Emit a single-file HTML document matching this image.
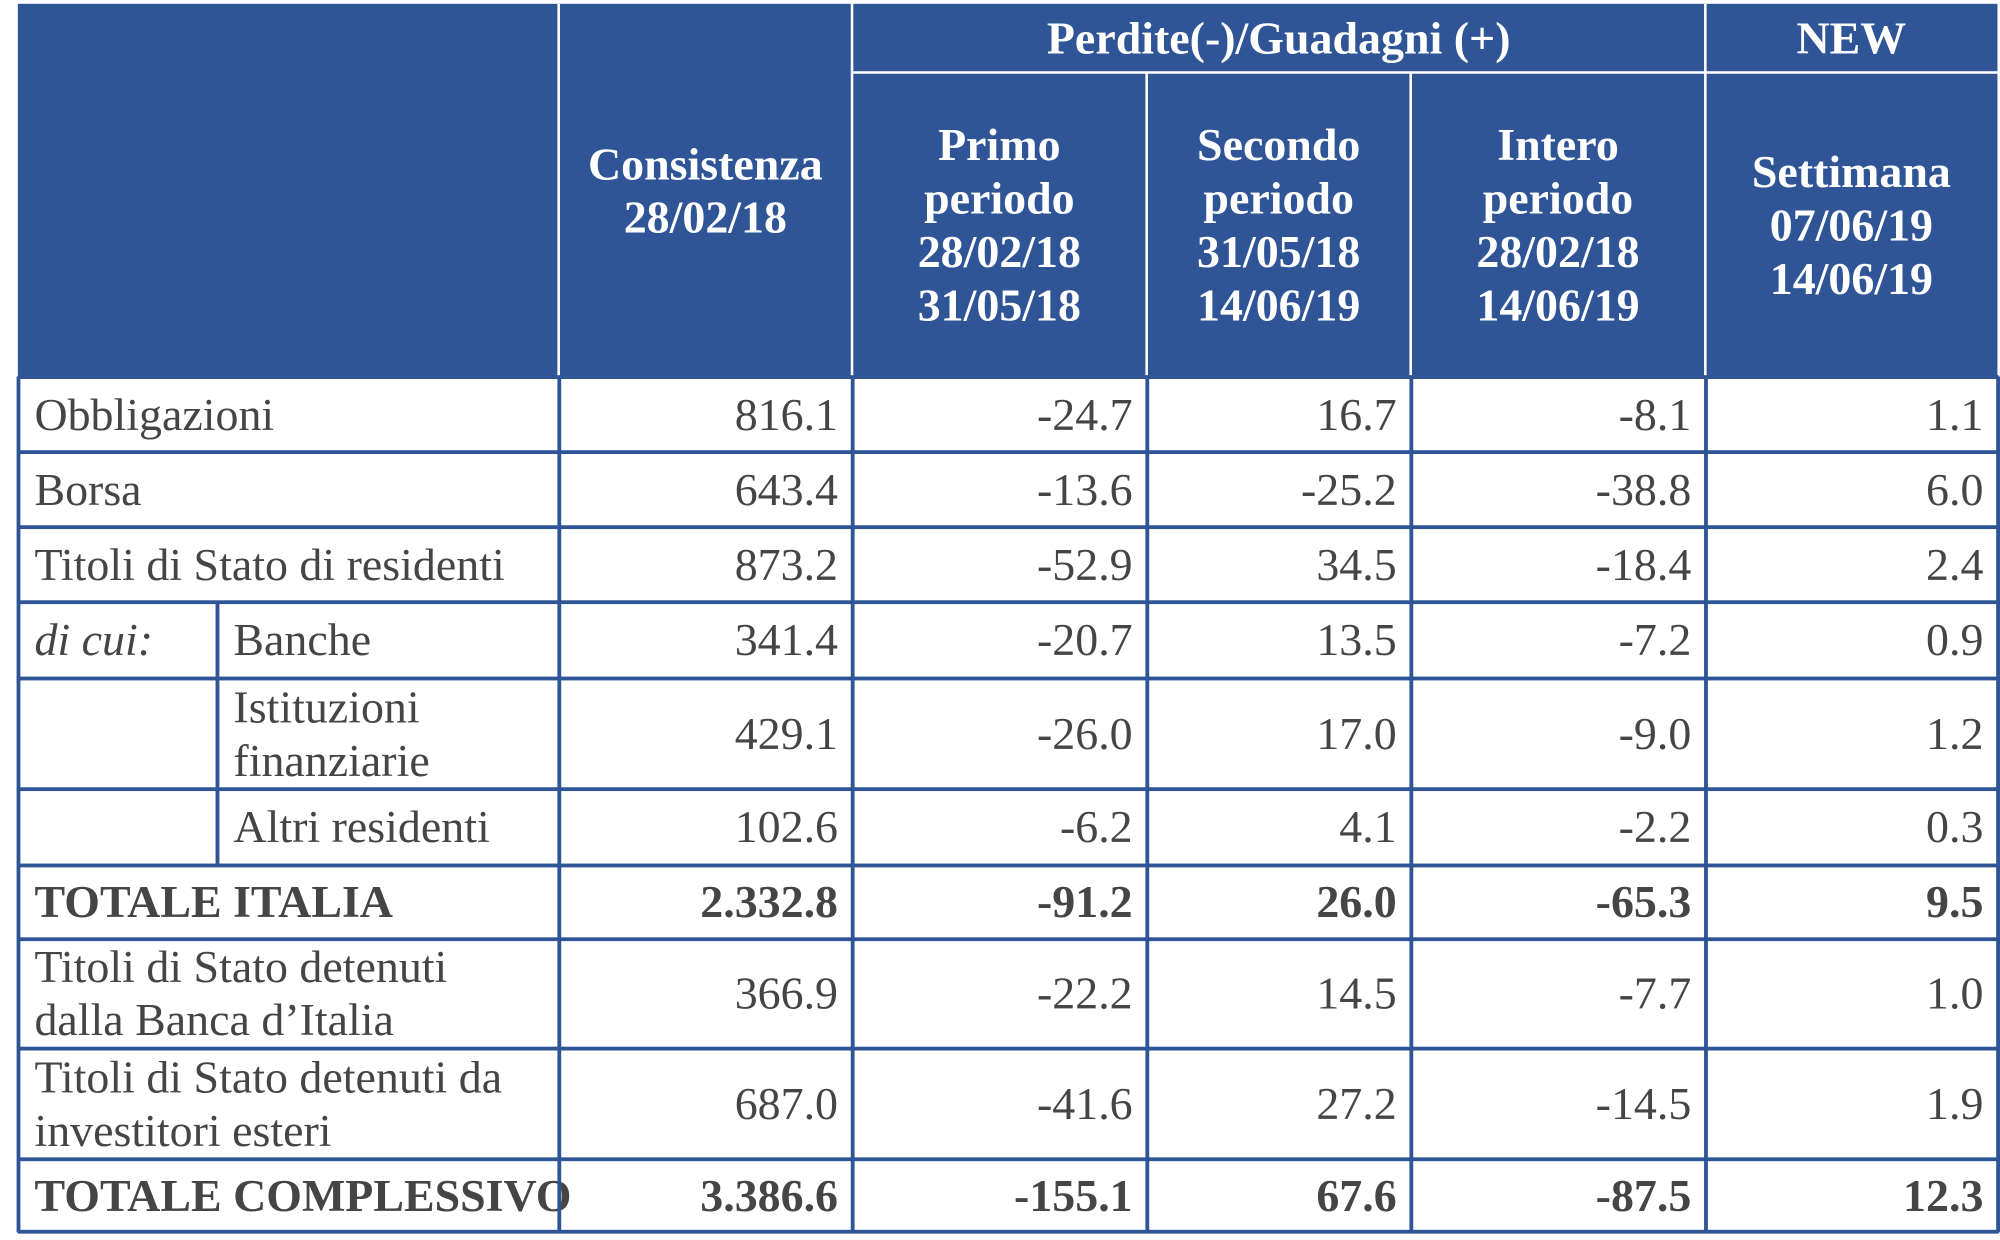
<!DOCTYPE html>
<html><head><meta charset="utf-8">
<style>
html,body{margin:0;padding:0;background:#fff;}
#wrap{position:absolute;left:0;top:0;width:1568px;height:975px;transform-origin:0 0;transform:scale(1.2755,1.2718);overflow:hidden;}
.c{position:absolute;box-sizing:border-box;display:flex;align-items:center;font-family:"Liberation Serif",serif;font-size:36px;color:#454545;line-height:42px;white-space:nowrap;}
.h{color:#fff;font-weight:bold;justify-content:center;text-align:center;font-size:36px;}
.r{justify-content:flex-end;padding-right:11px;}
.l{padding-left:13px;}
.b{font-weight:bold;}
.ln{position:absolute;background:#2f5597;}
.wl{position:absolute;background:#fff;}
</style></head><body>
<div id="wrap">
<div style="position:absolute;left:14px;top:3px;width:1552px;height:293px;background:#2f5597"></div>
</div>
<script>
const colX=[14,438,668,899,1106,1337,1566];
const rowY=[296,355,414,473,533,620,680,738,824,911,968];
const labels=["Obbligazioni","Borsa","Titoli di Stato di residenti","Banche","Istituzioni<br>finanziarie","Altri residenti","TOTALE ITALIA","Titoli di Stato detenuti<br>dalla Banca d’Italia","Titoli di Stato detenuti da<br>investitori esteri","TOTALE COMPLESSIVO"];
const consistenza=["816.1","643.4","873.2","341.4","429.1","102.6","2.332.8","366.9","687.0","3.386.6"];
const primo=["-24.7","-13.6","-52.9","-20.7","-26.0","-6.2","-91.2","-22.2","-41.6","-155.1"];
const secondo=["16.7","-25.2","34.5","13.5","17.0","4.1","26.0","14.5","27.2","67.6"];
const intero=["-8.1","-38.8","-18.4","-7.2","-9.0","-2.2","-65.3","-7.7","-14.5","-87.5"];
const settimana=["1.1","6.0","2.4","0.9","1.2","0.3","9.5","1.0","1.9","12.3"];
const boldRows=[6,9];
const subRows=[3,4,5];
const W=document.getElementById('wrap');
function cell(cls,x,y,w,h,html){const d=document.createElement('div');d.className='c '+cls;d.style.left=x+'px';d.style.top=y+'px';d.style.width=w+'px';d.style.height=h+'px';d.innerHTML=html;W.appendChild(d);return d;}
function line(cls,x,y,w,h){const d=document.createElement('div');d.className=cls;d.style.left=x+'px';d.style.top=y+'px';d.style.width=w+'px';d.style.height=h+'px';W.appendChild(d);return d;}
let e;
e=cell('h',438,3,230,293,'Consistenza<br>28/02/18');


e=cell('h',668,3,669,54,'Perdite(-)/Guadagni (+)');


e=cell('h',1337,3,229,54,'NEW');


e=cell('h',668,57,231,239,'Primo<br>periodo<br>28/02/18<br>31/05/18');


e=cell('h',899,57,207,239,'Secondo<br>periodo<br>31/05/18<br>14/06/19');


e=cell('h',1106,57,231,239,'Intero<br>periodo<br>28/02/18<br>14/06/19');


e=cell('h',1337,57,229,239,'Settimana<br>07/06/19<br>14/06/19');


const fullDiv=[1,2,5];
for(const i of fullDiv){e=line('wl',colX[i]-1,3,2,293);

}
for(const i of [3,4]){e=line('wl',colX[i]-1,57,2,239);

}
e=line('wl',668,56,898,2);


const cols=[consistenza,primo,secondo,intero,settimana];
for(let r=0;r<labels.length;r++){
  const y=rowY[r],h=rowY[r+1]-y,bold=boldRows.includes(r)?' b':'';
  const sub=subRows.includes(r);
  e=cell('l'+bold,sub?170:14,y,sub?268:424,h,labels[r]);
  
  
  if(r===3){e=cell('l',14,y,156,h,'<i>di cui:</i>');
  
  }
  for(let c=0;c<5;c++){
    e=cell('r'+bold,colX[c+1],y,colX[c+2]-colX[c+1],h,cols[c][r]);
    
    
  }
}
for(let i=0;i<rowY.length;i++){e=line('ln',14,rowY[i]-1.5,1553,3);

}
for(let i=0;i<colX.length;i++){e=line('ln',colX[i]-1.5,296,3,673);

}
e=line('ln',168.5,473,3,207);


</script>
</body></html>
